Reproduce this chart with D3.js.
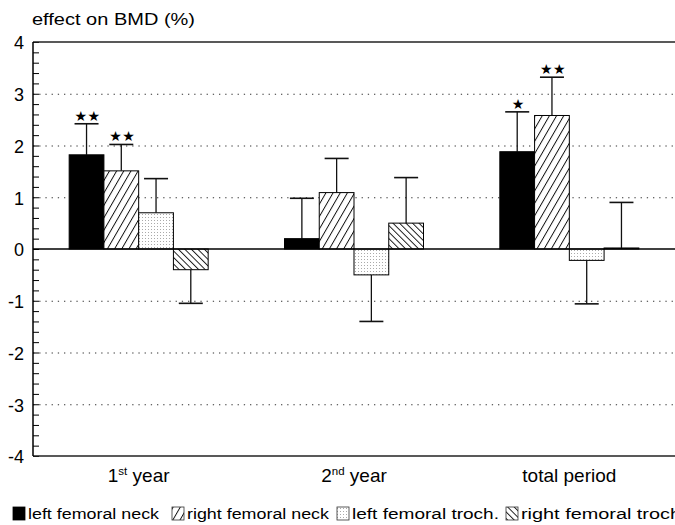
<!DOCTYPE html>
<html><head><meta charset="utf-8">
<script src="https://cdn.jsdelivr.net/npm/d3@7"></script>
<style>body{margin:0;background:#fff}svg{display:block}text{font-family:"Liberation Sans",Arial,sans-serif;fill:#000}</style>
</head><body><svg id="c" width="675" height="525"></svg>
<script>
const categories = ["1st year", "2nd year", "total period"];
const seriesNames = ["left femoral neck", "right femoral neck", "left femoral troch.", "right femoral troch"];
const leftNeck = [1.82, 0.20, 1.88];
const leftNeckErr = [2.42, 0.98, 2.65];
const rightNeck = [1.51, 1.09, 2.58];
const rightNeckErr = [2.02, 1.75, 3.32];
const leftTroch = [0.70, -0.50, -0.22];
const leftTrochErr = [1.36, -1.40, -1.06];
const rightTroch = [-0.40, 0.50, 0.02];
const rightTrochErr = [-1.05, 1.38, 0.90];
const significance = [["**", "**", "", ""], ["", "", "", ""], ["*", "**", "", ""]];
const majorTicks = [-4, -3, -2, -1, 0, 1, 2, 3, 4];
const gridTicks = [-3, -2, -1, 1, 2, 3];
const yLabel = "effect on BMD (%)";

const values = [leftNeck, rightNeck, leftTroch, rightTroch];
const errs = [leftNeckErr, rightNeckErr, leftTrochErr, rightTrochErr];
const fills = ["#000", "url(#hatchF)", "url(#dots)", "url(#hatchB)"];

const svg = d3.select("#c");
const defs = svg.append("defs");
function hatch(id, angle, gap) {
  const p = defs.append("pattern").attr("id", id).attr("patternUnits", "userSpaceOnUse")
    .attr("width", gap).attr("height", 10).attr("patternTransform", `rotate(${angle})`);
  p.append("rect").attr("width", gap).attr("height", 10).attr("fill", "#fff");
  p.append("line").attr("x1", 0.5).attr("x2", 0.5).attr("y1", 0).attr("y2", 10).attr("stroke", "#000").attr("stroke-width", 0.9);
}
hatch("hatchF", 30, 6.2);
hatch("hatchB", -45, 4.6);
const dp = defs.append("pattern").attr("id", "dots").attr("patternUnits", "userSpaceOnUse").attr("width", 3).attr("height", 3);
dp.append("rect").attr("width", 3).attr("height", 3).attr("fill", "#fff");
dp.append("rect").attr("x", 1).attr("y", 1).attr("width", 1).attr("height", 1).attr("fill", "#aaa");

const X0 = 33, XR = 675;
const y = d3.scaleLinear().domain([-4, 4]).range([456, 42]);
const xg = d3.scaleBand().domain(categories).range([31, 677]);
const xs = d3.scaleBand().domain(seriesNames).range([-69.5, 69.5]);
const bw = xs.bandwidth();

// grid
svg.append("g").attr("transform", `translate(${X0},0)`)
  .call(d3.axisRight(y).tickValues(gridTicks).tickSize(XR - X0).tickFormat(""))
  .call(g => g.select(".domain").remove())
  .call(g => g.selectAll("line").attr("stroke", "#333").attr("stroke-width", 1.2).attr("stroke-dasharray", "1.3,4.9"));

// minor ticks
svg.append("g").attr("transform", `translate(${X0},0)`)
  .call(d3.axisRight(y).tickValues(d3.range(-40, 41, 2).map(v => v / 10)).tickSize(6).tickFormat(""))
  .call(g => g.select(".domain").remove())
  .call(g => g.selectAll("line").attr("stroke", "#000").attr("stroke-width", 1));

// labels
svg.append("g").attr("transform", `translate(${X0},0)`)
  .call(d3.axisLeft(y).tickValues(majorTicks).tickSize(0).tickPadding(9).tickFormat(d => String(d)))
  .call(g => g.select(".domain").remove())
  .call(g => g.selectAll("text").attr("font-size", 18).attr("font-family", "Liberation Sans, Arial, sans-serif").attr("dy", "0.38em"));

// frame
svg.append("line").attr("x1", X0).attr("x2", XR).attr("y1", y(4)).attr("y2", y(4)).attr("stroke", "#222").attr("stroke-width", 1.4);
svg.append("line").attr("x1", X0).attr("x2", XR).attr("y1", y(-4)).attr("y2", y(-4)).attr("stroke", "#222").attr("stroke-width", 1.4);
svg.append("line").attr("x1", X0).attr("x2", X0).attr("y1", y(4)).attr("y2", y(-4)).attr("stroke", "#000").attr("stroke-width", 1.5);

// bars
const data = [];
categories.forEach((c, i) => seriesNames.forEach((s, j) => data.push({c, s, i, j, v: values[j][i], e: errs[j][i], sig: significance[i][j]})));
const cx = d => xg(d.c) + xg.bandwidth() / 2 + xs(d.s);
const gb = svg.append("g");
gb.selectAll("line.err").data(data).join("line").attr("class", "err")
  .attr("x1", d => cx(d) + bw / 2).attr("x2", d => cx(d) + bw / 2)
  .attr("y1", d => y(d.v)).attr("y2", d => y(d.e)).attr("stroke", "#111").attr("stroke-width", 1.3);
gb.selectAll("line.cap").data(data).join("line").attr("class", "cap")
  .attr("x1", d => cx(d) + bw / 2 - 12).attr("x2", d => cx(d) + bw / 2 + 12)
  .attr("y1", d => y(d.e)).attr("y2", d => y(d.e)).attr("stroke", "#111").attr("stroke-width", 1.6);
gb.selectAll("rect").data(data).join("rect")
  .attr("x", d => cx(d)).attr("width", bw)
  .attr("y", d => y(Math.max(0, d.v))).attr("height", d => Math.abs(y(d.v) - y(0)))
  .attr("fill", d => fills[d.j]).attr("stroke", "#000").attr("stroke-width", 1);
gb.selectAll("text").data(data.filter(d => d.sig)).join("text")
  .attr("x", d => cx(d) + bw / 2 + 1).attr("y", d => y(d.e) - 3)
  .attr("text-anchor", "middle").attr("font-size", 14).attr("letter-spacing", 0.5)
  .style("font-family", "DejaVu Sans")
  .text(d => d.sig.replace(/\*/g, "★"));

// zero line
svg.append("line").attr("x1", X0).attr("x2", XR).attr("y1", y(0)).attr("y2", y(0)).attr("stroke", "#000").attr("stroke-width", 1.5);

// x labels
const xl = svg.append("g");
categories.forEach((c, i) => {
  const t = xl.append("text").attr("x", xg(c) + xg.bandwidth() / 2).attr("y", 482)
    .attr("text-anchor", "middle").attr("font-size", 19);
  const m = c.match(/^(\d)(st|nd|rd|th) (.*)$/);
  if (m) {
    t.append("tspan").text(m[1]);
    t.append("tspan").attr("font-size", 11.5).attr("dy", -7).text(m[2]);
    t.append("tspan").attr("dy", 7).text(" " + m[3]);
  } else t.text(c);
});

// y title
svg.append("text").attr("x", 32).attr("y", 25).attr("font-size", 16.5)
  .attr("textLength", 163).attr("lengthAdjust", "spacingAndGlyphs").text(yLabel);

// legend
const legX = [13, 172, 337, 506];
const legW = [131, 142, 147, 160];
const lg = svg.append("g");
seriesNames.forEach((s, j) => {
  lg.append("rect").attr("x", legX[j]).attr("y", 507).attr("width", 12).attr("height", 13)
    .attr("fill", fills[j]).attr("stroke", j === 0 ? "#000" : "#333").attr("stroke-width", 0.8);
  lg.append("text").attr("x", legX[j] + 15).attr("y", 519).attr("font-size", 15.5)
    .attr("textLength", legW[j]).attr("lengthAdjust", "spacingAndGlyphs").text(s);
});
</script></body></html>
